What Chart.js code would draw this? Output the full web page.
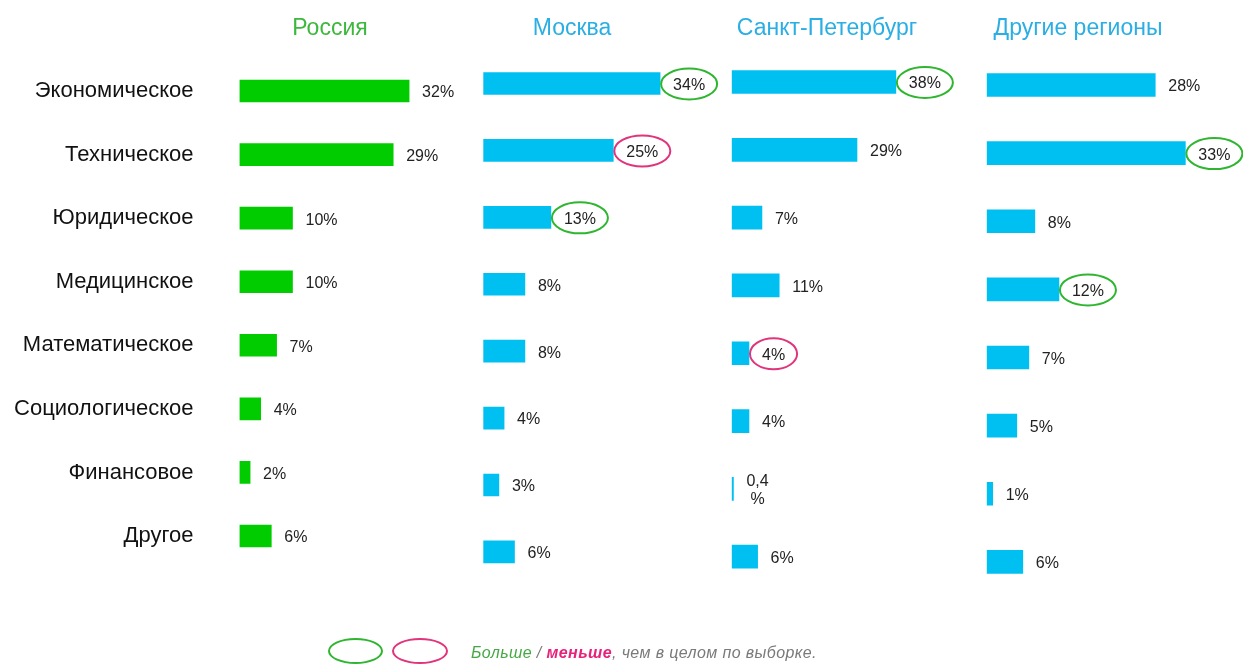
<!DOCTYPE html>
<html lang="ru">
  <head>
    <meta charset="UTF-8" />
    <title>Образование по регионам</title>
    <script src="https://cdn.jsdelivr.net/npm/chart.js"></script>
    <style>
      body {
        margin: 0;
        background: #fff;
        font-family: "Liberation Sans", Arial, sans-serif;
      }
      #wrap {
        position: relative;
        width: 1243px;
        height: 666px;
        overflow: hidden;
      }
      canvas {
        position: absolute;
        left: 0;
        top: 0;
      }
      .title {
        position: absolute;
        top: 16px;
        font-size: 23px;
        line-height: 23px;
        white-space: nowrap;
        transform: translateX(-50%);
      }
      .oval {
        position: absolute;
        top: 638px;
        height: 26px;
        box-sizing: border-box;
        border: 2px solid;
        border-radius: 50%;
      }
      #note {
        position: absolute;
        left: 471px;
        top: 645px;
        font-size: 16px;
        line-height: 16px;
        letter-spacing: 0.4px;
        font-style: italic;
        color: #7a7a7a;
        white-space: nowrap;
      }
    </style>
  </head>
  <body>
    <div id="wrap">
      <canvas id="russiaChart" width="1243" height="666"></canvas>
      <canvas id="moscowChart" width="1243" height="666"></canvas>
      <canvas id="spbChart" width="1243" height="666"></canvas>
      <canvas id="regionsChart" width="1243" height="666"></canvas>

      <div class="title" style="left: 330px; color: #3cb83c">Россия</div>
      <div class="title" style="left: 572px; color: #2aaee3">Москва</div>
      <div class="title" style="left: 827px; color: #2aaee3">Санкт-Петербург</div>
      <div class="title" style="left: 1078px; color: #2aaee3">Другие регионы</div>

      <div class="oval" style="left: 328px; width: 55px; border-color: #2fb52f"></div>
      <div class="oval" style="left: 392px; width: 56px; border-color: #e0347c"></div>
      <div id="note"><span style="color: #45a845">Больше</span> / <span style="color: #e8227a; font-weight: bold">меньше</span>, чем в целом по выборке.</div>
    </div>
    <script>
      const categories = [
        "Экономическое",
        "Техническое",
        "Юридическое",
        "Медицинское",
        "Математическое",
        "Социологическое",
        "Финансовое",
        "Другое",
      ];

      const russia = [32, 29, 10, 10, 7, 4, 2, 6];
      const moscow = [34, 25, 13, 8, 8, 4, 3, 6];
      const spb = [38, 29, 7, 11, 4, 4, 0.4, 6];
      const regions = [28, 33, 8, 12, 7, 5, 1, 6];

      // "more" / "less" than the whole sample -> circled value
      const russiaMarks = [null, null, null, null, null, null, null, null];
      const moscowMarks = ["more", "less", "more", null, null, null, null, null];
      const spbMarks = ["more", null, null, null, "less", null, null, null];
      const regionsMarks = [null, "more", null, "more", null, null, null, null];

      const GREEN = "#00cc00";
      const BLUE = "#00c0f2";
      const AREA_W = 230;

      function fmt(v) {
        return String(v).replace(".", ",");
      }

      const valueLabels = {
        id: "valueLabels",
        afterDatasetsDraw(chart, args, opts) {
          const ctx = chart.ctx;
          const meta = chart.getDatasetMeta(0);
          const values = chart.data.datasets[0].data;
          ctx.save();
          ctx.font = "16px 'Liberation Sans', Arial, sans-serif";
          ctx.fillStyle = "#222";
          ctx.textBaseline = "middle";
          meta.data.forEach((bar, i) => {
            const v = values[i];
            const x = bar.x + 13;
            const y = bar.y + 2;
            if (Number.isInteger(v)) {
              const txt = fmt(v) + "%";
              ctx.textAlign = "left";
              ctx.fillText(txt, x, y);
              const mark = opts.marks[i];
              if (mark) {
                const w = ctx.measureText(txt).width;
                ctx.beginPath();
                ctx.ellipse(x + w / 2, bar.y + 0.5, w / 2 + 12, 15.5, 0, 0, Math.PI * 2);
                ctx.lineWidth = 2;
                ctx.strokeStyle = mark === "more" ? "#2fb52f" : "#e0347c";
                ctx.stroke();
              }
            } else {
              // small fractional value wraps onto two lines
              const top = fmt(v);
              const w = ctx.measureText(top).width;
              ctx.textAlign = "center";
              ctx.fillText(top, x + w / 2, y - 9);
              ctx.fillText("%", x + w / 2, y + 9);
            }
          });
          ctx.restore();
        },
      };

      function makePanel(id, values, marks, color, p) {
        new Chart(document.getElementById(id), {
          type: "bar",
          data: {
            labels: categories,
            datasets: [
              {
                data: values,
                backgroundColor: color,
                borderWidth: 0,
                barThickness: p.thickness,
              },
            ],
          },
          options: {
            indexAxis: "y",
            responsive: false,
            animation: false,
            layout: {
              padding: {
                left: p.showLabels ? 0 : p.left,
                right: 1243 - p.left - AREA_W,
                top: p.top,
                bottom: 666 - p.bottom,
              },
            },
            plugins: {
              legend: { display: false },
              tooltip: { enabled: false },
              valueLabels: { marks: marks },
            },
            scales: {
              x: { display: false, min: 0, max: AREA_W / p.pxPerPct },
              y: {
                display: p.showLabels,
                grid: { display: false, drawTicks: false },
                border: { display: false },
                ticks: {
                  color: "#111",
                  padding: 46,
                  font: { family: "'Liberation Sans', Arial, sans-serif", size: 22 },
                },
                afterFit: (scale) => {
                  if (p.showLabels) scale.width = p.left;
                },
              },
            },
          },
          plugins: [valueLabels],
        });
      }

      makePanel("russiaChart", russia, russiaMarks, GREEN, {
        showLabels: true, left: 239.5, pxPerPct: 5.3, top: 55, bottom: 567.8, thickness: 22,
      });
      makePanel("moscowChart", moscow, moscowMarks, BLUE, {
        showLabels: false, left: 483.3, pxPerPct: 5.2, top: 50, bottom: 585.4, thickness: 22,
      });
      makePanel("spbChart", spb, spbMarks, BLUE, {
        showLabels: false, left: 731.7, pxPerPct: 4.32, top: 48.1, bottom: 590.6, thickness: 23,
      });
      makePanel("regionsChart", regions, regionsMarks, BLUE, {
        showLabels: false, left: 986.7, pxPerPct: 6.02, top: 50.9, bottom: 596, thickness: 23,
      });
    </script>
  </body>
</html>
